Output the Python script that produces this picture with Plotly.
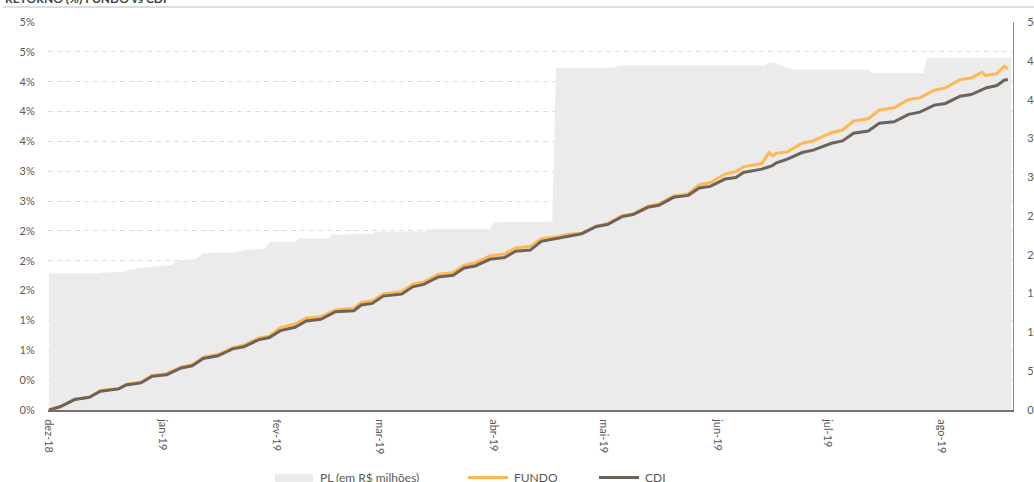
import plotly.graph_objects as go

# ---------------- data ----------------
month_ticks = ["2018-12-01", "2019-01-01", "2019-02-01", "2019-03-01", "2019-04-01",
               "2019-05-01", "2019-06-01", "2019-07-01", "2019-08-01"]
month_labels = ["dez-18", "jan-19", "fev-19", "mar-19", "abr-19",
                "mai-19", "jun-19", "jul-19", "ago-19"]

ret_dates = [
    "2018-12-01", "2018-12-04", "2018-12-08", "2018-12-12", "2018-12-15", "2018-12-20", "2018-12-22", "2018-12-26", "2018-12-29", "2019-01-02",
    "2019-01-06", "2019-01-09", "2019-01-12", "2019-01-16", "2019-01-20", "2019-01-23", "2019-01-27", "2019-01-30", "2019-02-02", "2019-02-06",
    "2019-02-09", "2019-02-13", "2019-02-17", "2019-02-22", "2019-02-24", "2019-02-27", "2019-03-02", "2019-03-07", "2019-03-10", "2019-03-13",
    "2019-03-17", "2019-03-21", "2019-03-24", "2019-03-27", "2019-03-31", "2019-04-04", "2019-04-07", "2019-04-11", "2019-04-14", "2019-04-19",
    "2019-04-21", "2019-04-25", "2019-04-29", "2019-05-02", "2019-05-06", "2019-05-09", "2019-05-13", "2019-05-16", "2019-05-20", "2019-05-24",
    "2019-05-27", "2019-05-30", "2019-06-03", "2019-06-06", "2019-06-08", "2019-06-13", "2019-06-15", "2019-06-16", "2019-06-17", "2019-06-20",
    "2019-06-24", "2019-06-27", "2019-07-02", "2019-07-05", "2019-07-08", "2019-07-12", "2019-07-15", "2019-07-19", "2019-07-23", "2019-07-26",
    "2019-07-30", "2019-08-02", "2019-08-06", "2019-08-09", "2019-08-12", "2019-08-13", "2019-08-16", "2019-08-18", "2019-08-19",
]

# accumulated return, in %
fundo_pct = [
    0.000, 0.043, 0.144, 0.176, 0.260, 0.291, 0.347, 0.376, 0.464, 0.487,
    0.576, 0.607, 0.707, 0.743, 0.837, 0.867, 0.963, 0.993, 1.104, 1.153,
    1.229, 1.251, 1.340, 1.363, 1.443, 1.464, 1.557, 1.584, 1.687, 1.717,
    1.816, 1.843, 1.940, 1.971, 2.064, 2.091, 2.171, 2.193, 2.296, 2.327,
    2.353, 2.371, 2.464, 2.496, 2.607, 2.629, 2.731, 2.763, 2.869, 2.896,
    3.020, 3.047, 3.163, 3.197, 3.260, 3.304, 3.451, 3.407, 3.443, 3.460,
    3.576, 3.607, 3.717, 3.753, 3.873, 3.904, 4.020, 4.051, 4.163, 4.184,
    4.287, 4.317, 4.429, 4.451, 4.527, 4.483, 4.509, 4.607, 4.571,
]
cdi_pct = [
    0.000, 0.043, 0.140, 0.171, 0.251, 0.283, 0.336, 0.363, 0.451, 0.473,
    0.563, 0.593, 0.691, 0.727, 0.820, 0.847, 0.940, 0.971, 1.064, 1.109,
    1.193, 1.216, 1.317, 1.331, 1.407, 1.429, 1.527, 1.553, 1.651, 1.683,
    1.784, 1.807, 1.904, 1.931, 2.020, 2.043, 2.127, 2.144, 2.260, 2.309,
    2.333, 2.363, 2.460, 2.487, 2.593, 2.620, 2.717, 2.744, 2.851, 2.877,
    2.976, 2.997, 3.096, 3.117, 3.184, 3.229, 3.260, 3.280, 3.313, 3.363,
    3.451, 3.483, 3.576, 3.607, 3.709, 3.740, 3.843, 3.864, 3.963, 3.993,
    4.087, 4.109, 4.207, 4.229, 4.293, 4.317, 4.349, 4.420, 4.429,
]

pl_dates = [
    "2018-12-01", "2018-12-14", "2018-12-15", "2018-12-21", "2018-12-23", "2018-12-28", "2019-01-03", "2019-01-06", "2019-01-10", "2019-01-12",
    "2019-01-21", "2019-01-23", "2019-01-29", "2019-01-30", "2019-02-06", "2019-02-07", "2019-02-15", "2019-02-16", "2019-02-27", "2019-02-28",
    "2019-03-13", "2019-03-14", "2019-03-31", "2019-04-01", "2019-04-17", "2019-04-18", "2019-05-04", "2019-05-05", "2019-06-14", "2019-06-15",
    "2019-06-17", "2019-06-20", "2019-06-22", "2019-07-12", "2019-07-13", "2019-07-27", "2019-07-28", "2019-08-19", "2019-08-20",
]
# PL in R$ millions
pl_values = [
    17.6, 17.6, 17.7, 17.8, 18.1, 18.4, 18.7, 19.3, 19.5, 20.2,
    20.3, 20.6, 20.8, 21.7, 21.7, 22.1, 22.1, 22.6, 22.7, 23.0,
    23.0, 23.3, 23.3, 24.2, 24.3, 44.1, 44.1, 44.4, 44.4, 44.8,
    44.7, 44.1, 43.9, 43.9, 43.4, 43.4, 45.4, 45.4, 45.4,
]

series_names = ["PL (em R$ milhões)", "FUNDO", "CDI"]
title_text = "RETORNO (%) FUNDO vs CDI"

# ---------------- styling ----------------
W, H = 1034, 482
ML, MR, MT, MB = 48, 21, 22, 72
PW, PH = W - ML - MR, H - MT - MB
FONT = "Lato, 'Open Sans', sans-serif"
TXT = "#595959"
AREA = "#EBEBEB"
ORANGE = "#FFB84F"
BROWN = "#6E635A"


def px_x(p):
    return (p - ML) / PW


def px_y(p):
    return 1 - (p - MT) / PH


fig = go.Figure()
fig.add_trace(go.Scatter(x=pl_dates, y=pl_values, name=series_names[0], mode="none",
                         fill="tozeroy", fillcolor=AREA, yaxis="y", hoverinfo="skip"))
fig.add_trace(go.Scatter(x=ret_dates, y=[v / 100 for v in fundo_pct], name=series_names[1],
                         mode="lines", line=dict(color=ORANGE, width=3), yaxis="y2"))
fig.add_trace(go.Scatter(x=ret_dates, y=[v / 100 for v in cdi_pct], name=series_names[2],
                         mode="lines", line=dict(color=BROWN, width=3), yaxis="y2"))

fig.update_layout(
    template="none",
    width=W, height=H, autosize=False,
    margin=dict(l=ML, r=MR, t=MT, b=MB, pad=0),
    paper_bgcolor="white", plot_bgcolor="white",
    showlegend=False,
    font=dict(family=FONT, size=11, color=TXT),
    xaxis=dict(
        type="date", range=["2018-11-30 17:30", "2019-08-20 09:36"], automargin=False,
        tickmode="array", tickvals=month_ticks, ticktext=month_labels,
        tickangle=90, tickfont=dict(size=11, color=TXT, family=FONT),
        showgrid=False, zeroline=False,
        showline=True, linecolor="#7A6F66", linewidth=2,
        ticks="outside", ticklen=5, tickcolor="rgba(0,0,0,0)",
    ),
    yaxis=dict(
        side="right", range=[0, 50.01], tick0=0, dtick=5, automargin=False,
        showgrid=False, zeroline=False,
        showline=True, linecolor="#8C8C8C", linewidth=1,
        ticks="outside", ticklen=11, tickcolor="rgba(0,0,0,0)",
        tickfont=dict(size=11, color=TXT, family=FONT),
    ),
    yaxis2=dict(
        overlaying="y", side="left", range=[0, 0.05201], tick0=0, dtick=0.004, automargin=False,
        tickformat=".0%", showgrid=True, gridcolor="#D9DCE0", griddash="5px,4px",
        gridwidth=1, zeroline=False, showline=False,
        ticks="outside", ticklen=10, tickcolor="rgba(0,0,0,0)",
        tickfont=dict(size=11, color=TXT, family=FONT),
    ),
)

shapes = [
    # separator under the title
    dict(type="line", xref="paper", yref="paper", x0=px_x(3), x1=px_x(1034),
         y0=px_y(7), y1=px_y(7), line=dict(color="#D9DCE0", width=2)),
    # legend symbols
    dict(type="rect", xref="paper", yref="paper", x0=px_x(275), x1=px_x(313),
         y0=px_y(486), y1=px_y(474), fillcolor=AREA, line=dict(width=0)),
    dict(type="line", xref="paper", yref="paper", x0=px_x(468), x1=px_x(508),
         y0=px_y(477.5), y1=px_y(477.5), line=dict(color=ORANGE, width=3)),
    dict(type="line", xref="paper", yref="paper", x0=px_x(599), x1=px_x(639),
         y0=px_y(477.5), y1=px_y(477.5), line=dict(color=BROWN, width=3)),
]
annotations = [
    dict(text="<b>" + title_text + "</b>", xref="paper", yref="paper", x=px_x(3), y=px_y(-1.5),
         xanchor="left", yanchor="middle", showarrow=False,
         font=dict(size=12, color="#404040", family=FONT)),
    dict(text=series_names[0], xref="paper", yref="paper", x=px_x(318), y=px_y(477.5),
         xanchor="left", yanchor="middle", showarrow=False, font=dict(size=12, color=TXT, family=FONT)),
    dict(text=series_names[1], xref="paper", yref="paper", x=px_x(512), y=px_y(477.5),
         xanchor="left", yanchor="middle", showarrow=False, font=dict(size=12, color=TXT, family=FONT)),
    dict(text=series_names[2], xref="paper", yref="paper", x=px_x(643), y=px_y(477.5),
         xanchor="left", yanchor="middle", showarrow=False, font=dict(size=12, color=TXT, family=FONT)),
]
fig.update_layout(shapes=shapes, annotations=annotations)

fig.write_html("out.html", config={"displayModeBar": False},
               post_script="document.body.style.margin='0';document.body.style.overflow='hidden';")
